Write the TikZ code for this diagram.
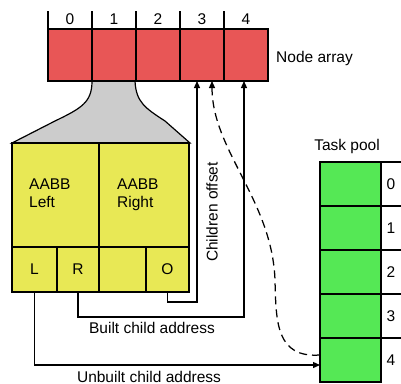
\documentclass[tikz,border=0pt]{standalone}
\usepackage{fontspec}
\setmainfont{Liberation Sans}
\usetikzlibrary{arrows.meta}
\definecolor{cred}{RGB}{232,86,86}
\definecolor{cyel}{RGB}{232,232,85}
\definecolor{cgrn}{RGB}{85,232,85}
\definecolor{cgry}{RGB}{204,204,204}
\tikzset{
  cell/.style={draw, line width=1.3pt, inner sep=0pt, outer sep=0pt},
  arr/.style={cell, fill=cred, minimum width=44pt, minimum height=52pt},
  ybox/.style={cell, fill=cyel, minimum height=104pt},
  ysm/.style={cell, fill=cyel, minimum height=45pt},
  tpool/.style={cell, fill=cgrn, minimum width=61pt, minimum height=44pt},
  lbl/.style={inner sep=1pt, font=\fontsize{15.5}{18}\selectfont},
  conn/.style={line width=1.25pt, -{Triangle[length=7pt,width=6pt]}},
}
\begin{document}
\begin{tikzpicture}[x=1pt,y=-1pt]
\useasboundingbox (0,0) rectangle (401,383);
% funnel
\fill[cgry, draw=black, line width=1.2pt] (92,81) .. controls (92,102) and (82,108) .. (55,121) -- (12,143) -- (190,143) -- (165,121) .. controls (145,108) and (136,102) .. (135,81);
% node array
\foreach \i/\x in {0/70,1/114,2/158,3/202,4/246} {
  \node[arr] (a\i) at (\x,55) {};
  \node[lbl] (l\i) at (\x,19) {\i};
  \draw[line width=1.3pt] (a\i.north west) -- ++(0,-18);
}
\node[lbl, anchor=west] (na) at (275,58) {Node array};
% yellow struct
\node[ybox, minimum width=87pt, anchor=north west] (bl) at (12,143) {};
\node[ybox, minimum width=90pt, anchor=north west] (br) at (99,143) {};
\node[lbl, align=left, anchor=north west] (tl) at (28,178) {AABB\\Left};
\node[lbl, align=left, anchor=north west] (tr) at (116,178) {AABB\\Right};
\node[ysm, minimum width=45pt, anchor=north west] (cL) at (12,247) {};
\node[ysm, minimum width=42pt, anchor=north west] (cR) at (57,247) {};
\node[ysm, minimum width=47pt, anchor=north west] (cE) at (99,247) {};
\node[ysm, minimum width=43pt, anchor=north west] (cO) at (146,247) {};
\node[lbl] at (cL) {L};
\node[lbl] at (cR) {R};
\node[lbl] at (cO) {O};
% task pool
\node[lbl] (tp) at (347,146) {Task pool};
\foreach \i/\y in {0/184,1/228,2/272,3/316,4/360} {
  \node[tpool] (t\i) at (350.5,\y) {};
  \node[lbl] (n\i) at (391,\y) {\i};
  \draw[line width=1.3pt] (t\i.north east) -- (401,\y-22);
}
% connectors
\draw[conn] (cO.south) -- ++(0,10) -| ([xshift=-5pt]a3.south);
\draw[conn] (cR.south) -- ++(0,25) -| ([xshift=-2pt]a4.south);
\draw[conn] (cL.south) |- ([yshift=-5pt]t4.west);
\draw[conn, dash pattern=on 8pt off 5pt] ([yshift=5pt]t4.west) .. controls (276,358) and (276,322) .. (275,280) .. controls (272,200) and (212,150) .. ([xshift=10pt]a3.south);
\node[lbl, rotate=90] (co) at (212,212) {Children offset};
\node[lbl] (bca) at (152,328) {Built child address};
\node[lbl] (uca) at (149,377) {Unbuilt child address};
\end{tikzpicture}
\end{document}
